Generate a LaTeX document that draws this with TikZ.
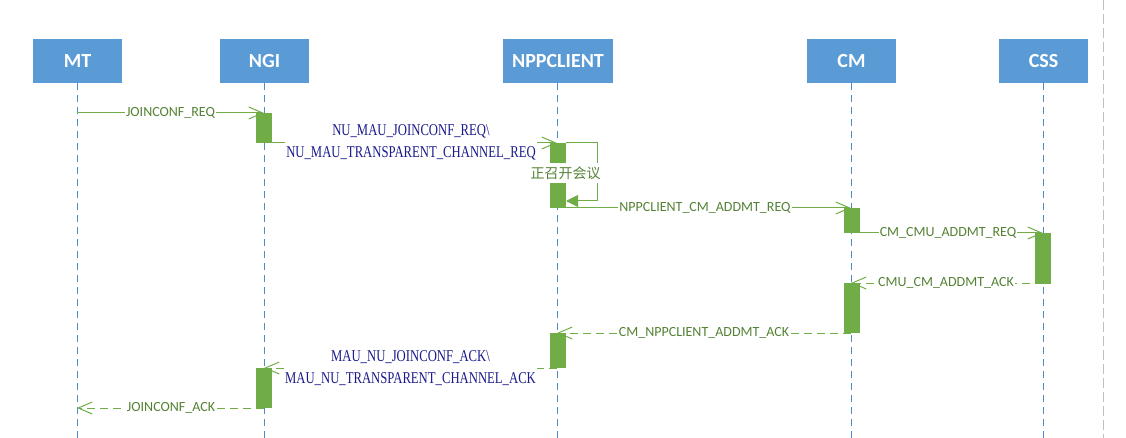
\documentclass[tikz,border=0pt]{standalone}
\usepackage{fontspec}
\setmainfont{Carlito}
\newfontfamily\navyfont[FakeStretch=0.77]{Liberation Serif}
\newfontfamily\cjk{Noto Sans CJK SC}
\usetikzlibrary{arrows.meta}
\definecolor{hdr}{HTML}{5B9BD5}
\definecolor{life}{HTML}{4F8AC9}
\definecolor{act}{HTML}{70AD47}
\definecolor{msg}{HTML}{70AD47}
\definecolor{lblc}{HTML}{548235}
\definecolor{navyc}{HTML}{1A1A8C}
\definecolor{grayline}{HTML}{BFBFBF}
\begin{document}
\begin{tikzpicture}[x=1pt,y=-1pt,
  header/.style={fill=hdr, text=white, font=\fontsize{20}{24}\selectfont\bfseries, minimum width=89pt, minimum height=44pt, inner sep=0pt},
  lifeline/.style={draw=life, line width=1pt, dash pattern=on 7pt off 5pt},
  actbox/.style={fill=act, minimum width=16pt, inner sep=0pt, anchor=north},
  msgline/.style={draw=msg, line width=1pt, -{Straight Barb[length=14pt,width=12pt,line width=1pt]}},
  reply/.style={msgline, dash pattern=on 8pt off 5pt},
  lbl/.style={fill=white, text=lblc, inner sep=1pt, font=\fontsize{14}{16}\selectfont},
  navylbl/.style={fill=white, text=navyc, inner sep=1pt, align=center, font=\navyfont\fontsize{16.5}{22}\selectfont},
]
\useasboundingbox (0,0) rectangle (1126,438);
\draw[grayline, line width=1pt, dash pattern=on 10pt off 4pt] (1103,0) -- (1103,438);

% headers
\node[header] (mt)  at (77.5,61)  {MT};
\node[header] (ngi) at (264.5,61) {NGI};
\node[header, minimum width=110pt] (npp) at (558,61) {NPPCLIENT};
\node[header] (cm)  at (851.5,61) {CM};
\node[header] (css) at (1043.5,61) {CSS};

% lifelines
\foreach \n/\x in {mt/77,ngi/264,npp/557,cm/851,css/1043}{
  \coordinate (\n top) at (\x,83);
  \coordinate (\n bot) at (\x,438);
  \draw[lifeline] (\n top) -- (\n bot);
}

% message end points
\coordinate (m1a) at (77,113);   \coordinate (m1b) at (264,113);
\coordinate (m2a) at (264,143);  \coordinate (m2b) at (557,143);
\coordinate (m3a) at (557,208);  \coordinate (m3b) at (851,208);
\coordinate (m4a) at (851,233);  \coordinate (m4b) at (1043,233);
\coordinate (m5a) at (1043,283); \coordinate (m5b) at (851,283);
\coordinate (m6a) at (851,333);  \coordinate (m6b) at (557,333);
\coordinate (m7a) at (557,368);  \coordinate (m7b) at (264,368);
\coordinate (m8a) at (264,408);  \coordinate (m8b) at (77,408);

\draw[msgline] (m1a) -- (m1b);
\draw[msgline] (m2a) -- (m2b);
\draw[msgline] (m3a) -- (m3b);
\draw[msgline] (m4a) -- (m4b);
\draw[reply] (m5a) -- (m5b);
\draw[reply] (m6a) -- (m6b);
\draw[reply] (m7a) -- (m7b);
\draw[reply] (m8a) -- (m8b);

% self loop
\coordinate (l1) at (566,143);
\coordinate (l2) at (597,143);
\coordinate (l3) at (597,201);
\coordinate (l4) at (566,201);
\draw[draw=msg, line width=1pt, -{Triangle[length=12pt,width=12pt]}] (l1) -- (l2) -- (l3) -- (l4);

% activation boxes
\node[actbox, minimum height=30pt] (a1) at (264,113) {};
\node[actbox, minimum height=65pt] (a2) at (558,143) {};
\node[actbox, minimum height=25pt] (a3) at (852,208) {};
\node[actbox, minimum height=51pt] (a4) at (1043,233) {};
\node[actbox, minimum height=50pt] (a5) at (852,283) {};
\node[actbox, minimum height=35pt] (a6) at (558,333) {};
\node[actbox, minimum height=40pt] (a7) at (264,368) {};

% labels
\node[lbl] (t1) at (170.5,113) {JOINCONF\_REQ};
\node[navylbl] (t2) at (411,142) {NU\_MAU\_JOINCONF\_REQ\textbackslash\\NU\_MAU\_TRANSPARENT\_CHANNEL\_REQ};
\node[fill=white, text=lblc, inner sep=0pt, minimum height=20pt, font=\cjk\fontsize{14}{16}\selectfont] (t3) at (565.5,173) {正召开会议};
\node[lbl] (t4) at (705,208) {NPPCLIENT\_CM\_ADDMT\_REQ};
\node[lbl] (t5) at (948,233) {CM\_CMU\_ADDMT\_REQ};
\node[lbl] (t6) at (946,283) {CMU\_CM\_ADDMT\_ACK};
\node[lbl] (t7) at (704,333) {CM\_NPPCLIENT\_ADDMT\_ACK};
\node[navylbl] (t8) at (410.5,368) {MAU\_NU\_JOINCONF\_ACK\textbackslash\\MAU\_NU\_TRANSPARENT\_CHANNEL\_ACK};
\node[lbl] (t9) at (171,408) {JOINCONF\_ACK};
\end{tikzpicture}
\end{document}
